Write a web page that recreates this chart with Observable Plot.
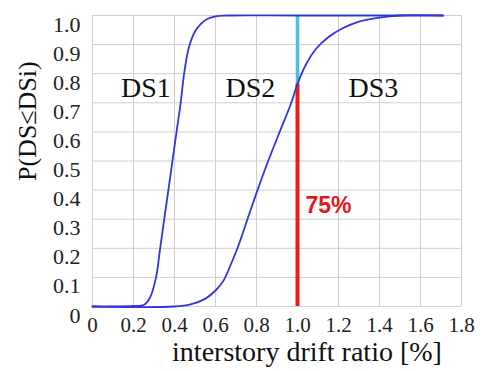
<!DOCTYPE html>
<html>
<head>
<meta charset="utf-8">
<script src="https://cdn.jsdelivr.net/npm/d3@7"></script>
<script src="https://cdn.jsdelivr.net/npm/@observablehq/plot@0.6"></script>
<style>
  html, body { margin: 0; padding: 0; background: #fff; }
</style>
</head>
<body>
<div id="chart"></div>
<script>
// Tick values
const xTicks = [0, 0.2, 0.4, 0.6, 0.8, 1.0, 1.2, 1.4, 1.6, 1.8];
const yTicks = [0, 0.1, 0.2, 0.3, 0.4, 0.5, 0.6, 0.7, 0.8, 0.9, 1.0];

// DS1 fragility curve
const ds1X = [0, 0.1, 0.2, 0.25, 0.28, 0.31, 0.33, 0.35, 0.37, 0.39, 0.41, 0.43, 0.447, 0.47, 0.5, 0.53, 0.56, 0.6, 0.65, 1.0, 1.71];
const ds1Y = [0, 0, 0.002, 0.005, 0.03, 0.1, 0.2, 0.3, 0.4, 0.5, 0.6, 0.7, 0.8, 0.89, 0.945, 0.972, 0.988, 0.997, 1.0, 1.0, 1.0];

// DS2 fragility curve
const ds2X = [0, 0.4, 0.478, 0.551, 0.6, 0.639, 0.672, 0.707, 0.756, 0.805, 0.857, 0.913, 0.967, 1.0, 1.04, 1.09, 1.15, 1.22, 1.3, 1.4, 1.5, 1.71];
const ds2Y = [0, 0, 0.007, 0.027, 0.055, 0.089, 0.14, 0.2, 0.3, 0.4, 0.5, 0.6, 0.695, 0.765, 0.83, 0.885, 0.925, 0.956, 0.979, 0.993, 1.0, 1.0];

// Region labels
const dsLabels = ["DS1", "DS2", "DS3"];
const dsLabelX = [0.26, 0.77, 1.37];
const dsLabelY = [0.75, 0.75, 0.75];

// Marker at drift 1.0
const markerX = 1.0;
const markerP = 0.765;
const markerText = "75%";
const markerTextY = 0.347;

const xLabel = "interstory drift ratio [%]";
const yLabel = "P(DS≤DSi)";

const ds1 = ds1X.map((x, i) => ({x, y: ds1Y[i]}));
const ds2 = ds2X.map((x, i) => ({x, y: ds2Y[i]}));
const labels = dsLabels.map((t, i) => ({t, x: dsLabelX[i], y: dsLabelY[i]}));

const fmt = v => v === 0 ? "0" : v.toFixed(1);
const serif = "'Liberation Serif', 'Times New Roman', serif";

const chart = Plot.plot({
  width: 481,
  height: 371,
  marginLeft: 92,
  marginRight: 20,
  marginTop: 15,
  marginBottom: 65,
  style: {fontFamily: serif, background: "#fff", color: "#222"},
  x: {domain: [0, 1.8]},
  y: {domain: [0, 1.0]},
  marks: [
    Plot.gridX(xTicks, {stroke: "#cfcfcf", strokeOpacity: 1, strokeWidth: 1}),
    Plot.gridY(yTicks, {stroke: "#cfcfcf", strokeOpacity: 1, strokeWidth: 1}),
    Plot.axisX(xTicks, {tickSize: 0, tickPadding: 11, fontSize: 21, tickFormat: fmt, label: null}),
    Plot.axisY(yTicks, {tickSize: 0, tickPadding: 12, fontSize: 22, tickFormat: fmt, dy: 9, label: null}),
    Plot.ruleX([markerX], {y1: markerP, y2: 1.0, stroke: "#4cbfe6", strokeWidth: 3.5}),
    Plot.ruleX([markerX], {y1: 0, y2: markerP, stroke: "#ee1b1b", strokeWidth: 4}),
    Plot.line(ds1, {x: "x", y: "y", stroke: "#3535dc", strokeWidth: 1.8, curve: "catmull-rom"}),
    Plot.line(ds2, {x: "x", y: "y", stroke: "#3535dc", strokeWidth: 1.8, curve: "catmull-rom"}),
    Plot.text(labels, {x: "x", y: "y", text: "t", fontSize: 28, fill: "#111", fontFamily: serif}),
    Plot.text([markerText], {x: markerX, y: markerTextY, text: d => d, textAnchor: "start", dx: 8, fontSize: 23, fontWeight: "bold", fill: "#e8141c", fontFamily: "'Liberation Sans', Arial, sans-serif"}),
    Plot.text([xLabel], {frameAnchor: "bottom", text: d => d, dx: 30, dy: 54, fontSize: 28, fill: "#111", fontFamily: serif}),
    Plot.text([yLabel], {frameAnchor: "left", text: d => d, rotate: -90, dx: -65, dy: 20, fontSize: 26, fill: "#111", fontFamily: serif})
  ]
});
document.getElementById("chart").appendChild(chart);
</script>
</body>
</html>
